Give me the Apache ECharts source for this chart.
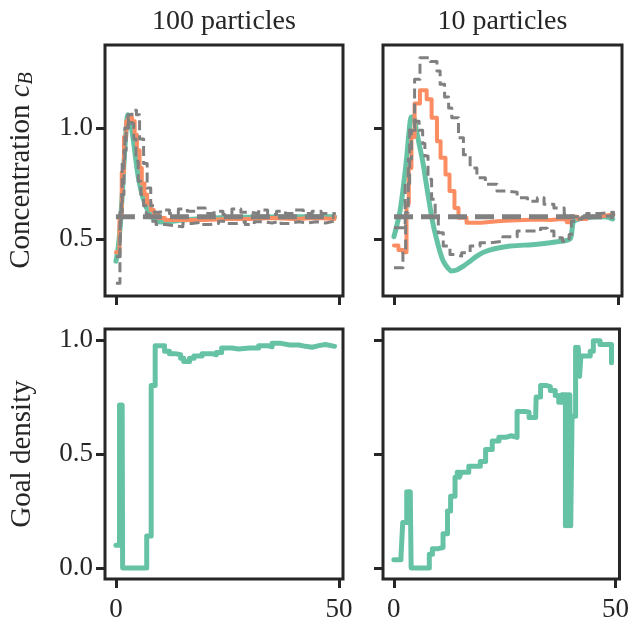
<!DOCTYPE html>
<html>
<head>
<meta charset="utf-8">
<script src="https://cdn.jsdelivr.net/npm/echarts@6/dist/echarts.min.js"></script>
<style>
  html, body { margin: 0; padding: 0; background: #fff; }
  #chart { width: 632px; height: 628px; }
</style>
</head>
<body>
<div id="chart"></div>
<script>
// panel titles and tick labels
const panelTitles = ['100 particles', '10 particles'];
const xTicks = [0, 50];
const yTicksTop = [0.5, 1.0];
const yTicksBottom = [0.0, 0.5, 1.0];

// target concentration (thick dashed line)
const target = [[0, 0.6], [49, 0.6]];

// 100 particles: concentration [time, value]
const model100 = [[0,0.40],[0.5,0.46],[1,0.57],[1.5,0.73],[2,0.91],[2.4,1.02],[2.7,1.06],[3.1,1.05],[3.5,1.0],[4,0.93],[4.5,0.85],[5,0.78],[5.5,0.73],[6,0.69],[6.5,0.66],[7,0.635],[8,0.60],[9,0.583],[10,0.576],[12,0.578],[15,0.585],[18,0.59],[22,0.595],[30,0.598],[40,0.6],[49,0.6]];
const mean100 = [[0,0.44],[0.8,0.6],[1.3,0.8],[1.8,0.96],[2.3,1.03],[2.8,1.05],[3.6,1.03],[4.2,0.97],[4.7,0.9],[5.3,0.82],[5.8,0.75],[6.4,0.7],[7,0.66],[7.8,0.63],[8.5,0.61],[9.5,0.595],[11,0.585],[15,0.585],[20,0.59],[25,0.59],[30,0.595],[35,0.59],[40,0.595],[45,0.59],[49,0.6]];
const upper100 = [[0,0.42],[0.9,0.62],[1.4,0.86],[2.0,1.0],[2.7,1.06],[3.6,1.08],[4.6,1.06],[5.3,0.95],[6.2,0.84],[7.0,0.73],[7.8,0.65],[8.6,0.62],[10,0.63],[12,0.615],[14,0.635],[16,0.625],[18,0.64],[20,0.615],[22,0.625],[24,0.61],[26,0.635],[28,0.62],[30,0.615],[32,0.63],[34,0.61],[36,0.625],[38,0.615],[40,0.63],[42,0.615],[44,0.625],[46,0.615],[49,0.62]];
const lower100 = [[0,0.30],[0.9,0.45],[1.3,0.70],[1.8,0.90],[2.3,1.0],[2.8,1.04],[3.5,1.02],[4.0,0.95],[4.5,0.85],[5.0,0.76],[5.6,0.70],[6.2,0.65],[6.8,0.61],[7.5,0.58],[9,0.565],[11,0.56],[13,0.555],[15,0.57],[17,0.575],[19,0.565],[21,0.57],[23,0.58],[25,0.57],[27,0.578],[29,0.565],[31,0.578],[33,0.572],[35,0.58],[37,0.57],[39,0.578],[41,0.572],[43,0.578],[45,0.572],[47,0.58],[49,0.585]];

// 10 particles: concentration
const model10 = [[0,0.51],[0.5,0.55],[1.3,0.62],[2,0.72],[2.8,0.86],[3.4,0.99],[3.9,1.05],[4.3,1.05],[5,0.99],[5.7,0.92],[6.5,0.84],[7.2,0.75],[8,0.65],[8.7,0.57],[9.5,0.50],[10.3,0.44],[11,0.40],[12,0.37],[12.8,0.356],[14,0.36],[15.5,0.378],[17,0.40],[18.5,0.423],[20,0.44],[22.2,0.455],[26,0.468],[32,0.476],[37.2,0.49],[39.3,0.5],[39.8,0.55],[40.2,0.58],[43.2,0.596],[47,0.6],[48.8,0.59]];
const mean10 = [[0,0.47],[1.0,0.45],[2.0,0.44],[2.8,0.66],[3.3,0.82],[3.9,0.96],[4.6,1.11],[5.8,1.17],[7.3,1.13],[8.4,1.046],[9.6,0.94],[10.4,0.866],[11.5,0.79],[12.4,0.716],[13.5,0.64],[14.4,0.596],[16.2,0.573],[19.5,0.58],[23,0.583],[26,0.585],[29,0.588],[32,0.585],[35,0.59],[37.5,0.585],[38.6,0.575],[39.4,0.6],[41,0.59],[43,0.6],[45,0.605],[47,0.61],[49,0.61]];
const upper10 = [[0,0.55],[1.5,0.55],[2.5,0.75],[3.5,1.0],[4.6,1.22],[5.8,1.317],[8.1,1.30],[9.6,1.257],[10.3,1.197],[11.3,1.14],[12.2,1.09],[12.9,1.046],[14.4,0.956],[15.5,0.88],[17,0.82],[18.5,0.776],[20.4,0.746],[23,0.716],[25.3,0.71],[27.5,0.686],[29.8,0.67],[32,0.686],[33.5,0.656],[35.7,0.64],[38,0.61],[39.5,0.60],[41,0.60],[43,0.615],[46,0.62],[49,0.61]];
const lower10 = [[0,0.37],[2.0,0.45],[2.6,0.62],[3.2,0.86],[3.9,0.99],[4.7,1.03],[5.6,0.99],[6.4,0.93],[6.9,0.874],[7.6,0.769],[8.4,0.679],[9.2,0.6],[9.9,0.528],[11,0.468],[12.5,0.43],[13.6,0.423],[15.1,0.438],[17,0.468],[19.2,0.483],[21.5,0.49],[24.3,0.51],[27.5,0.536],[30.5,0.536],[32.7,0.548],[34.2,0.536],[35.7,0.506],[37.6,0.49],[39.1,0.52],[39.6,0.58],[40.5,0.59],[42,0.6],[44,0.6],[46,0.605],[49,0.6]];

// goal density
const goal100 = [[0,0.10],[0.8,0.715],[0.9,0.10],[1.0,0.715],[1.1,0.10],[1.2,0.715],[1.3,0.10],[1.4,0.715],[1.5,0.0],[6.9,0.14],[7.9,0.80],[8.8,0.975],[10.9,0.95],[12,0.94],[13.3,0.935],[14.5,0.92],[15.2,0.905],[16.5,0.92],[17.5,0.93],[19.3,0.94],[21.5,0.935],[22.5,0.945],[23.7,0.965],[26,0.96],[27.5,0.965],[30,0.965],[32,0.975],[34,0.97],[35,0.985],[37,0.978],[39,0.978],[41,0.972],[42.5,0.968],[44,0.975],[45.5,0.98],[47,0.972],[49,0.975]];
const goal10 = [[0,0.036],[1.6,0.047],[2.0,0.20],[2.9,0.335],[3.1,0.2],[3.3,0.335],[3.5,0.2],[3.7,0.335],[3.9,0.0],[8.0,0.06],[8.7,0.085],[10,0.09],[11.1,0.15],[12.1,0.25],[12.8,0.315],[13.8,0.398],[14.3,0.42],[14.8,0.398],[15.2,0.42],[16,0.42],[16.9,0.446],[19.5,0.467],[20.7,0.52],[22.2,0.557],[23.7,0.573],[25.2,0.58],[26.5,0.573],[27.8,0.686],[29.7,0.683],[30.5,0.66],[32,0.675],[32.1,0.75],[33.1,0.80],[34.5,0.795],[35.3,0.778],[36.4,0.756],[37.2,0.727],[37.9,0.76],[38.7,0.185],[38.9,0.76],[39.1,0.185],[39.3,0.76],[39.5,0.185],[39.7,0.76],[39.9,0.185],[40.2,0.665],[41.0,0.968],[41.3,0.84],[41.6,0.968],[41.9,0.84],[42.2,0.93],[43,0.93],[44.3,0.95],[45,0.997],[46.5,0.98],[49.1,0.90]];

const GREEN = '#66c2a5';
const ORANGE = '#fc8d62';
const GRAY = '#808080';
const INK = '#262626';
const FONT = 'Liberation Serif';

const chart = echarts.init(document.getElementById('chart'), null, { renderer: 'canvas' });

const grids = [
  { left: 105, top: 45, width: 238, height: 251 },
  { left: 383, top: 45, width: 239, height: 251 },
  { left: 105, top: 329, width: 238, height: 250 },
  { left: 383, top: 329, width: 239, height: 250 }
].map(g => Object.assign(g, { show: true, borderColor: INK, borderWidth: 3, backgroundColor: '#fff' }));

const xAxes = [0, 1, 2, 3].map(i => ({
  type: 'value', gridIndex: i, min: -2.45, max: 50.9,
  axisLine: { show: false, onZero: false },
  splitLine: { show: false },
  axisTick: { show: true, length: 9, customValues: xTicks, lineStyle: { color: INK, width: 3 } },
  axisLabel: { show: i >= 2, customValues: xTicks, margin: 17, color: INK, fontFamily: FONT, fontSize: 27 }
}));

const yAxes = [0, 1, 2, 3].map(i => {
  const top = i < 2;
  const ticks = top ? yTicksTop : yTicksBottom;
  const ax = {
    type: 'value', gridIndex: i,
    min: top ? 0.243 : -0.048, max: top ? 1.374 : 1.048,
    axisLine: { show: false, onZero: false },
    splitLine: { show: false },
    axisTick: { show: true, length: 9, customValues: ticks, lineStyle: { color: INK, width: 3 } },
    axisLabel: { show: i % 2 === 0, customValues: ticks, margin: 12, color: INK, fontFamily: FONT, fontSize: 27,
      formatter: v => v.toFixed(1) }
  };
  if (i === 0) {
    ax.name = '{a|Concentration }{i|c}{s|B}';
    ax.nameLocation = 'middle';
    ax.nameGap = 68;
    ax.nameTextStyle = {
      color: INK, fontFamily: FONT, fontSize: 29,
      rich: {
        a: { fontFamily: FONT, fontSize: 29, color: INK },
        i: { fontFamily: FONT, fontSize: 29, fontStyle: 'italic', color: INK },
        s: { fontFamily: FONT, fontSize: 20, fontStyle: 'italic', color: INK, padding: [12, 0, 0, 0] }
      }
    };
  }
  if (i === 2) {
    ax.name = 'Goal density';
    ax.nameLocation = 'middle';
    ax.nameGap = 68;
    ax.nameTextStyle = { color: INK, fontFamily: FONT, fontSize: 29 };
  }
  return ax;
});

function line(idx, data, color, width, opts) {
  return Object.assign({
    type: 'line', xAxisIndex: idx, yAxisIndex: idx, data: data,
    showSymbol: false, symbol: 'none', silent: true, animation: false,
    lineStyle: { color: color, width: width, cap: 'round', join: 'round' }
  }, opts || {});
}

const dashThin = { type: [10, 5] };
const dashThick = { type: [19, 8] };

function concSeries(idx, model, mean, upper, lower) {
  const s = [];
  s.push(line(idx, model, GREEN, 5, { smooth: 0.35 }));
  s.push(line(idx, mean, ORANGE, 4, { step: 'end' }));
  const up = line(idx, upper, GRAY, 3, { step: 'end' });
  up.lineStyle = Object.assign({}, up.lineStyle, dashThin, { cap: 'butt' });
  const lo = line(idx, lower, GRAY, 3, { step: 'end' });
  lo.lineStyle = Object.assign({}, lo.lineStyle, dashThin, { cap: 'butt' });
  s.push(up, lo);
  const tg = line(idx, target, GRAY, 5);
  tg.lineStyle = Object.assign({}, tg.lineStyle, dashThick, { cap: 'butt' });
  s.push(tg);
  return s;
}

const series = [].concat(
  concSeries(0, model100, mean100, upper100, lower100),
  concSeries(1, model10, mean10, upper10, lower10),
  [line(2, goal100, GREEN, 5, { step: 'end' })],
  [line(3, goal10, GREEN, 5, { step: 'end' })]
);

chart.setOption({
  animation: false,
  backgroundColor: '#fff',
  grid: grids,
  xAxis: xAxes,
  yAxis: yAxes,
  graphic: panelTitles.map((t, i) => ({
    type: 'text',
    x: i === 0 ? 224 : 502.5,
    y: 22,
    style: { text: t, fill: INK, font: '28px "' + FONT + '"', textAlign: 'center', textVerticalAlign: 'middle' }
  })),
  series: series
});
</script>
</body>
</html>
